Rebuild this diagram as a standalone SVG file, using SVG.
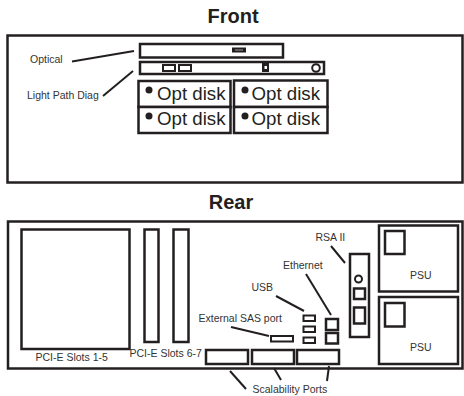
<svg xmlns="http://www.w3.org/2000/svg" width="464" height="396" viewBox="0 0 464 396">
<style>
.b{fill:#fff;stroke:#231f20;stroke-width:2.5}
.m{fill:#fff;stroke:#231f20;stroke-width:2}
.l{fill:none;stroke:#231f20;stroke-width:2}
text{font-family:"Liberation Sans",Arial,sans-serif;fill:#231f20}
.h{font-size:20px;font-weight:bold}
.s{font-size:10.500px;fill:#333}
.d{font-size:18.700px}
</style>
<rect width="464" height="396" fill="#fff"/>
<text class="h" x="233" y="22.500" text-anchor="middle">Front</text>
<text class="h" x="231" y="209" text-anchor="middle">Rear</text>
<g id="front-chassis"><rect class="b" x="7.500" y="35.500" width="455" height="147"/></g>
<g id="optical"><rect class="b" x="140" y="44" width="143" height="13.500"/><rect x="232" y="47.500" width="14" height="5" fill="#231f20"/><rect x="235" y="49.500" width="8" height="1" fill="#999"/><text class="s" x="30" y="63">Optical</text></g>
<g id="light-path"><rect class="b" x="140" y="62" width="184" height="12"/><rect class="m" x="163" y="65" width="12" height="6"/><rect class="m" x="179" y="65" width="12" height="6"/><rect x="262" y="63" width="7" height="9" fill="#231f20"/><rect x="264.500" y="66" width="2.500" height="3" fill="#fff"/><circle class="m" cx="316" cy="68" r="3.800"/><text class="s" x="27" y="99">Light Path Diag</text></g>
<g id="disk-1"><rect class="b" x="138.500" y="81" width="92" height="26"/><circle cx="149" cy="90" r="3.500" fill="#231f20"/><text class="d" x="157" y="100">Opt disk</text></g>
<g id="disk-2"><rect class="b" x="138.500" y="107" width="92" height="26"/><circle cx="149" cy="116" r="3.500" fill="#231f20"/><text class="d" x="157" y="125">Opt disk</text></g>
<g id="disk-3"><rect class="b" x="234" y="80.500" width="93.500" height="26.500"/><circle cx="245" cy="90" r="3.500" fill="#231f20"/><text class="d" x="251.500" y="100">Opt disk</text></g>
<g id="disk-4"><rect class="b" x="234" y="107" width="93.500" height="26"/><circle cx="245" cy="116" r="3.500" fill="#231f20"/><text class="d" x="251.500" y="125">Opt disk</text></g>
<g id="rear-chassis"><rect class="b" x="8" y="221.500" width="454.500" height="147"/></g>
<g id="pci-1-5"><rect class="b" x="21.500" y="229.500" width="108" height="119.500"/><text class="s" x="35.500" y="361">PCI-E Slots 1-5</text></g>
<g id="pci-6-7"><rect class="b" x="144.500" y="229.500" width="14" height="112.500"/><rect class="b" x="173.500" y="229.500" width="15" height="112.500"/><text class="s" x="129.500" y="357">PCI-E Slots 6-7</text></g>
<g id="sas"><rect class="m" x="271" y="336" width="22" height="5.500"/><text class="s" x="198.500" y="322">External SAS port</text></g>
<g id="usb"><rect class="m" x="303.500" y="315.500" width="11.500" height="5.500"/><rect class="m" x="303.500" y="326.500" width="11.500" height="5.500"/><rect class="m" x="303.500" y="337.500" width="11.500" height="5.500"/><text class="s" x="251.500" y="291">USB</text></g>
<g id="ethernet"><rect class="b" x="326" y="319" width="12" height="11"/><rect class="b" x="326" y="333" width="12" height="10.500"/><text class="s" x="283" y="269">Ethernet</text></g>
<g id="rsa"><rect class="b" x="350" y="254" width="19" height="83"/><circle class="m" cx="358.500" cy="279" r="3.500"/><rect class="b" x="354" y="288.500" width="11" height="10.500"/><rect class="b" x="354" y="307.500" width="11" height="16"/><text class="s" x="315.500" y="241">RSA II</text></g>
<g id="psu-1"><rect class="b" x="379" y="225.500" width="79" height="66"/><rect class="b" x="385" y="231" width="19.500" height="23"/><text class="s" x="410" y="279">PSU</text></g>
<g id="psu-2"><rect class="b" x="379" y="297" width="79" height="67"/><rect class="b" x="385" y="303" width="19.500" height="23.500"/><text class="s" x="410" y="351">PSU</text></g>
<g id="scalability"><rect class="b" x="206" y="350" width="42" height="14"/><rect class="b" x="252" y="350" width="42" height="14"/><rect class="b" x="297" y="350" width="42" height="14"/><text class="s" x="252.500" y="393">Scalability Ports</text></g>
<g id="connectors">
<line class="l" x1="72" y1="61.500" x2="134" y2="51"/>
<line class="l" x1="103" y1="96" x2="133" y2="71"/>
<line class="l" x1="231" y1="327" x2="269" y2="336"/>
<line class="l" x1="276" y1="296" x2="304" y2="311"/>
<line class="l" x1="306" y1="274" x2="331" y2="315"/>
<line class="l" x1="331" y1="246" x2="345" y2="263"/>
<line class="l" x1="230" y1="371" x2="246" y2="389"/>
<line class="l" x1="274" y1="368" x2="281" y2="380"/>
<line class="l" x1="329" y1="366" x2="327" y2="381"/>
</g>
</svg>
